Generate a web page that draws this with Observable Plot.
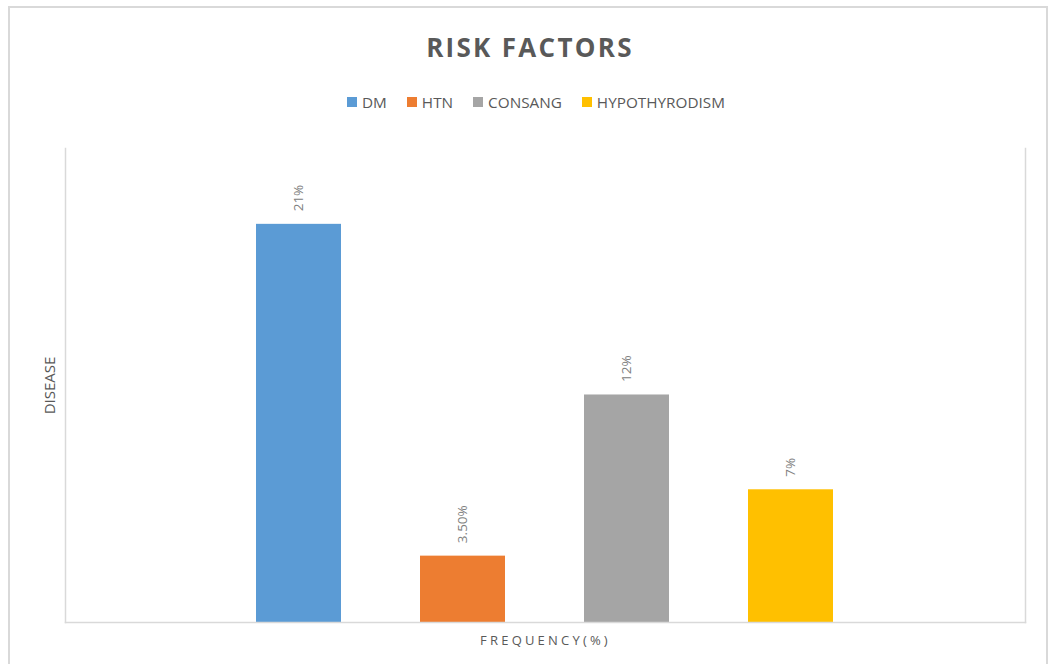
<!DOCTYPE html>
<html>
<head>
<meta charset="utf-8">
<script src="https://cdn.jsdelivr.net/npm/d3@7"></script>
<script src="https://cdn.jsdelivr.net/npm/@observablehq/plot@0.6"></script>
<style>
  body { margin: 0; background: #fff; font-family: "Open Sans", "Liberation Sans", sans-serif; }
  #wrap { position: relative; width: 1055px; height: 664px; overflow: hidden; background: #fff; }
  #border { position: absolute; left: 8px; top: 6px; width: 1040px; height: 720px; border: 2px solid #d9d9d9; box-sizing: border-box; }
  #title { position: absolute; top: 29px; left: 0; width: 1060px; text-align: center; font-size: 26px; font-weight: 700; color: #595959; letter-spacing: 2.3px; }
  #legend { position: absolute; top: 92px; left: 347px; display: flex; align-items: center; font-size: 15.3px; color: #595959; }
  #legend .item { display: flex; align-items: center; margin-right: 20px; }
  #legend .sw { width: 10px; height: 10px; margin-right: 5px; }
  #chart { position: absolute; left: 0; top: 130px; }
</style>
</head>
<body>
<div id="wrap">
  <div id="border"></div>
  <div id="title"></div>
  <div id="legend"></div>
  <div id="chart"></div>
</div>
<script>
const title = "RISK FACTORS";
const series = ["DM", "HTN", "CONSANG", "HYPOTHYRODISM"];
const values = [21, 3.5, 12, 7];
const valueLabels = ["21%", "3.50%", "12%", "7%"];
const colors = ["#5b9bd5", "#ed7d31", "#a5a5a5", "#ffc000"];
const xTitle = "FREQUENCY(%)";
const yTitle = "DISEASE";

document.getElementById("title").textContent = title;
const legend = document.getElementById("legend");
series.forEach((s, i) => {
  const item = document.createElement("div");
  item.className = "item";
  const sw = document.createElement("div");
  sw.className = "sw";
  sw.style.background = colors[i];
  const t = document.createElement("span");
  t.textContent = s;
  item.appendChild(sw);
  item.appendChild(t);
  legend.appendChild(item);
});

const data = series.map((s, i) => ({series: s, value: values[i], label: valueLabels[i]}));

const chart = Plot.plot({
  width: 1055,
  height: 534,
  marginTop: 18,
  marginBottom: 42,
  marginLeft: 65,
  marginRight: 30,
  style: {fontFamily: '"Open Sans", sans-serif', background: "transparent"},
  x: {domain: series, range: [216.5, 872.5], paddingInner: 0.48, paddingOuter: 0.24, axis: null},
  y: {domain: [0, 25], axis: null},
  color: {domain: series, range: colors},
  marks: [
    Plot.barY(data, {x: "series", y: "value", fill: "series"}),
    Plot.text(data, {x: "series", y: "value", text: "label", rotate: -90, textAnchor: "start", lineAnchor: "middle", dy: -13, fill: "#808080", fontSize: 13.5}),
    Plot.frame({anchor: "left", stroke: "#d9d9d9", strokeWidth: 1.5}),
    Plot.frame({anchor: "right", stroke: "#d9d9d9", strokeWidth: 1.5}),
    Plot.frame({anchor: "bottom", stroke: "#d9d9d9", strokeWidth: 1.5}),
    Plot.text([yTitle], {frameAnchor: "left", rotate: -90, dx: -15, textAnchor: "middle", fill: "#595959", fontSize: 15}),
    Plot.text([xTitle], {frameAnchor: "bottom", dy: 22, textAnchor: "middle", fill: "#595959", fontSize: 13})
  ]
});
d3.select(chart).selectAll("text").filter(function() { return this.textContent === xTitle; })
  .style("letter-spacing", "3.2px");
document.getElementById("chart").appendChild(chart);
</script>
</body>
</html>
